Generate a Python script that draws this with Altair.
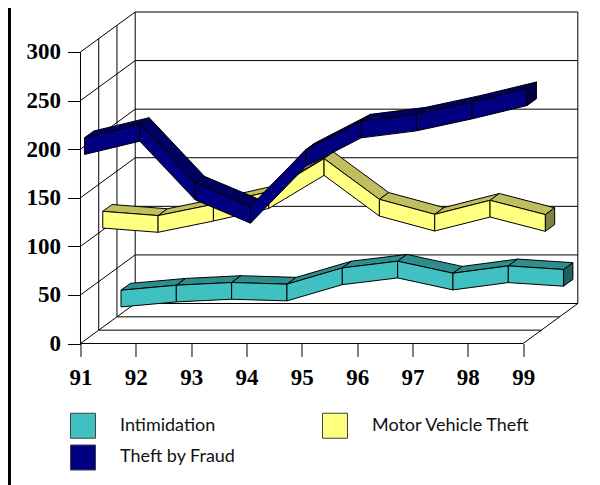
import altair as alt
import pandas as pd

years = [91, 92, 93, 94, 95, 96, 97, 98, 99]
y_ticks = [0, 50, 100, 150, 200, 250, 300]
series_names = ["Intimidation", "Motor Vehicle Theft", "Theft by Fraud"]
legend_order = ["Intimidation", "Theft by Fraud", "Motor Vehicle Theft"]
intimidation = [15.8, 20.9, 23.7, 22.0, 38.7, 45.6, 33.3, 40.8, 37.1]
motor_vehicle = [110.7, 106.3, 117.9, 130.8, 164.9, 123.0, 107.6, 122.0, 107.3]
theft_fraud = [200.1, 213.8, 153.4, 129.4, 187.8, 217.2, 224.4, 236.7, 250.5]

face_colors = ["#40C0C0", "#FFFF80", "#000080"]
top_colors = ["#2E8E8E", "#BFBF60", "#000060"]
cap_colors = ["#206060", "#808040", "#000040"]
legend_colors = ["#40C0C0", "#000080", "#FFFF80"]

W, H = 497.2, 331.5
X_UNIT, Y_UNIT = 55.33, 0.9717
DEPTH_X = 54.7 / X_UNIT
DEPTH_Y = 40.0 / Y_UNIT
X_MAX = 91 + W / X_UNIT
Y_MAX = H / Y_UNIT
HALF = 8.6
LANE_START = 0.0735
LANE_DEPTH = 0.17


def px(year, depth):
    return year + depth * DEPTH_X


def py(value, depth):
    return value + depth * DEPTH_Y


# Oblique projection of the 3D frame
frame = []


def seg(name, p0, p1):
    for k, (yr, val, d) in enumerate((p0, p1)):
        frame.append({"id": name, "k": k, "x": px(yr, d), "y": py(val, d)})


for d in (0, 1 / 3, 2 / 3, 1):
    seg(f"floor{d}", (91, 0, d), (99, 0, d))
    seg(f"wall{d}", (91, 0, d), (91, 300, d))
for v in y_ticks:
    seg(f"side{v}", (91, v, 0), (91, v, 1))
    seg(f"back{v}", (91, v, 1), (99, v, 1))
seg("floorR", (99, 0, 0), (99, 0, 1))
seg("wallR", (99, 0, 1), (99, 300, 1))
frame_df = pd.DataFrame(frame)

# Ribbon faces: tops first, then fronts, back series first
polys = []
pid = 0


def poly(points, fill):
    global pid
    for k, (yr, val, d) in enumerate(points + points[:1]):
        polys.append({"poly": f"p{pid:03d}", "k": k, "x": px(yr, d), "y": py(val, d), "fill": fill})
    pid += 1


all_series = [intimidation, motor_vehicle, theft_fraud]
lanes = [2, 1, 0]
for s, vals in enumerate(all_series):
    d0 = LANE_START + lanes[s] / 3
    d1 = d0 + LANE_DEPTH
    for i in range(len(years) - 1):
        a, b = years[i], years[i + 1]
        va, vb = vals[i], vals[i + 1]
        poly([(a, va + HALF, d0), (b, vb + HALF, d0), (b, vb + HALF, d1), (a, va + HALF, d1)], top_colors[s])
    for i in range(len(years) - 1):
        a, b = years[i], years[i + 1]
        va, vb = vals[i], vals[i + 1]
        poly([(a, va + HALF, d0), (b, vb + HALF, d0), (b, vb - HALF, d0), (a, va - HALF, d0)], face_colors[s])
    last = years[-1]
    vl = vals[-1]
    poly([(last, vl + HALF, d0), (last, vl + HALF, d1), (last, vl - HALF, d1), (last, vl - HALF, d0)], cap_colors[s])
poly_df = pd.DataFrame(polys)

x_scale = alt.Scale(domain=[91, X_MAX], nice=False, zero=False)
y_scale = alt.Scale(domain=[0, Y_MAX], nice=False, zero=False)

frame_layer = alt.Chart(frame_df).mark_line(color="black", strokeWidth=1).encode(
    x=alt.X(
        "x:Q",
        scale=x_scale,
        axis=alt.Axis(
            values=years, format="d", title=None, domain=False, grid=False,
            tickSize=13, tickColor="black", labelPadding=10,
            labelFont="Liberation Serif", labelFontWeight="bold", labelFontSize=23,
            labelColor="black", labelFlush=False, labelOverlap=False,
        ),
    ),
    y=alt.Y(
        "y:Q",
        scale=y_scale,
        axis=alt.Axis(
            values=y_ticks, format="d", title=None, domain=False, grid=False,
            tickSize=13, tickColor="black", labelPadding=7,
            labelFont="Liberation Serif", labelFontWeight="bold", labelFontSize=23,
            labelColor="black", labelFlush=False, labelOverlap=False,
        ),
    ),
    detail="id:N",
    order="k:Q",
)

ribbon_layer = alt.Chart(poly_df).mark_line(stroke="black", strokeWidth=1, strokeJoin="miter").encode(
    x=alt.X("x:Q", scale=x_scale),
    y=alt.Y("y:Q", scale=y_scale),
    fill=alt.Fill("fill:N", scale=None),
    detail="poly:N",
    order="k:Q",
)

legend_layer = alt.Chart(pd.DataFrame({"series": series_names, "x": [91] * 3, "y": [0] * 3})).mark_square(
    opacity=0, size=1
).encode(
    x=alt.X("x:Q", scale=x_scale),
    y=alt.Y("y:Q", scale=y_scale),
    color=alt.Color(
        "series:N",
        scale=alt.Scale(domain=legend_order, range=legend_colors),
        legend=alt.Legend(
            orient="none", legendX=-10.5, legendY=400.5, columns=2, title=None,
            symbolType="square", symbolSize=625, symbolOpacity=1,
            symbolStrokeColor="#404040", symbolStrokeWidth=1,
            labelOffset=24, labelFont="Lato", labelFontSize=18, labelColor="#111111",
            rowPadding=2, columnPadding=84, labelLimit=300,
        ),
    ),
)

bar_layer = alt.Chart(pd.DataFrame({"a": [0]})).mark_rule(color="black", strokeWidth=3, clip=False).encode(
    x=alt.value(-71), y=alt.value(-12), y2=alt.value(474)
)

chart = (
    alt.layer(frame_layer, ribbon_layer, legend_layer, bar_layer)
    .properties(
        width=W, height=H,
        padding={"left": 72.5, "top": 4, "right": 14, "bottom": 141},
        autosize=alt.AutoSizeParams(type="none"),
        background="white",
    )
    .configure_view(stroke=None)
)

chart.save("out.html", embed_options={"renderer": "svg", "actions": False})
